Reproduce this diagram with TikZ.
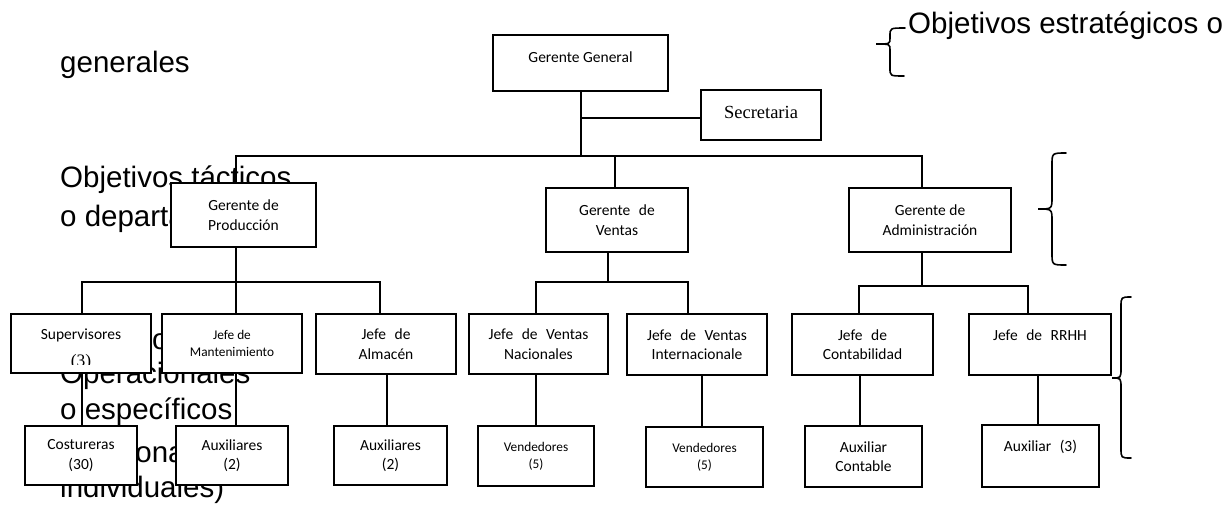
\documentclass[tikz,border=0pt]{standalone}
\usepackage{fontspec}
\newfontfamily\boxfont{Carlito}
\newfontfamily\bigfont{Liberation Sans}
\newfontfamily\serfont{Liberation Serif}
\usetikzlibrary{calc}
\pgfdeclarelayer{txt}
\pgfdeclarelayer{lines}
\pgfsetlayers{txt,lines,main}
\newcommand{\wsp}{\hspace{0.55em}}
\begin{document}
\begin{tikzpicture}[x=1pt,y=-1pt,
  box/.style={draw, line width=2.2pt, fill=white, inner sep=0pt, align=center, font=\boxfont\fontsize{15.5}{19.5}\selectfont},
  smallbox/.style={box, font=\boxfont\fontsize{13.3}{17}\selectfont},
  big/.style={anchor=base west, inner sep=0pt, font=\bigfont\fontsize{29.5}{33}\selectfont},
  conn/.style={line width=2pt, line join=miter},
  brace/.style={line width=1.6pt, line cap=round}]
\useasboundingbox (0,0) rectangle (1230,504);

% ---- boxes ----
\node[box, minimum width=175pt, minimum height=56pt] (gg) at (580.5,63) {\raisebox{6pt}[\height][\depth]{Gerente General}};
\node[box, font=\serfont\fontsize{18.5}{21}\selectfont, minimum width=120pt, minimum height=50pt] (sec) at (761,115) {\raisebox{3pt}[\height][\depth]{Secretaria}};
\node[box, minimum width=145pt, minimum height=64pt] (gp) at (243.5,215) {Gerente de\\Producción};
\node[box, minimum width=142pt, minimum height=64pt] (gv) at (617,220) {Gerente\wsp de\\Ventas};
\node[box, minimum width=162pt, minimum height=64pt] (ga) at (930,220) {Gerente de\\Administración};
\node[box, minimum width=140pt, minimum height=59pt] (sup) at (81,343.5) {Supervisores\\~};
\node[smallbox, minimum width=140pt, minimum height=59pt] (mant) at (232,343.5) {Jefe de\\Mantenimiento};
\node[box, minimum width=140pt, minimum height=60pt] (alm) at (386,344) {Jefe\wsp de\\Almacén};
\node[box, minimum width=139pt, minimum height=60pt] (jvn) at (538.5,344) {Jefe\wsp de\wsp Ventas\\Nacionales};
\node[box, minimum width=140pt, minimum height=61pt] (jvi) at (697,344.5) {Jefe\wsp de\wsp Ventas\\Internacionale};
\node[box, minimum width=141pt, minimum height=61pt] (cont) at (862.5,344.5) {Jefe\wsp de\\Contabilidad};
\node[box, minimum width=142pt, minimum height=61pt] (rrhh) at (1040,344.5) {Jefe\wsp de\wsp RRHH\\~};
\node[box, minimum width=112pt, minimum height=59pt] (cost) at (81,455.5) {Costureras\\(30)};
\node[box, minimum width=112pt, minimum height=59pt] (aux1) at (232,455.5) {Auxiliares\\(2)};
\node[box, minimum width=113pt, minimum height=59pt] (aux2) at (390.5,455.5) {Auxiliares\\(2)};
\node[smallbox, minimum width=116pt, minimum height=60pt] (vend1) at (536,456) {Vendedores\\(5)};
\node[smallbox, minimum width=117pt, minimum height=60pt] (vend2) at (704.5,457) {Vendedores\\(5)};
\node[box, minimum width=117pt, minimum height=61pt] (auxc) at (863.5,456.5) {Auxiliar\\Contable};
\node[box, minimum width=117pt, minimum height=62pt] (aux3) at (1040.5,456) {Auxiliar\wsp(3)\\~};

% clipped "(3)" inside Supervisores
\begin{scope}
\clip (sup.north west) rectangle ([yshift=10pt]sup.south east);
\node[font=\serfont\fontsize{17.5}{20}\selectfont, anchor=base, inner sep=0pt] (sup3) at (81,366) {(3)};
\end{scope}

% ---- connectors ----
\begin{pgfonlayer}{lines}
\coordinate (b0) at (580.5,156);
\coordinate (bs) at (580.5,118);
\coordinate (bL) at (236,156);
\coordinate (bV) at (615,156);
\coordinate (bR) at (922,156);
\draw[conn] (gg.south) -- (b0);
\draw[conn] (bs) -- (bs -| sec.west);
\draw[conn] (bL |- gp.north) -- (bL) -- (bR) -- (bR |- ga.north);
\draw[conn] (bV) -- (bV |- gv.north);
% produccion
\coordinate (pL) at (82,282);
\coordinate (pM) at (236,282);
\coordinate (pR) at (380,282);
\coordinate (qa) at (387,400);
\draw[conn] (pM |- gp.south) -- (pM);
\draw[conn] (pL |- sup.north) -- (pL) -- (pR) -- (pR |- alm.north);
\draw[conn] (pM) -- (pM |- mant.north);
\draw[conn] (pL |- sup.south) -- (pL |- cost.north);
\draw[conn] (pM |- mant.south) -- (pM |- aux1.north);
\draw[conn] (qa |- alm.south) -- (qa |- aux2.north);
% ventas
\coordinate (vL) at (536,282);
\coordinate (vM) at (608,282);
\coordinate (vR) at (688,282);
\coordinate (qv) at (702,400);
\draw[conn] (vM |- gv.south) -- (vM);
\draw[conn] (vL |- jvn.north) -- (vL) -- (vR) -- (vR |- jvi.north);
\draw[conn] (vL |- jvn.south) -- (vL |- vend1.north);
\draw[conn] (qv |- jvi.south) -- (qv |- vend2.north);
% administracion
\coordinate (aL) at (859,286);
\coordinate (aM) at (922,286);
\coordinate (aR) at (1028,286);
\coordinate (qc) at (860,400);
\coordinate (qr) at (1038,400);
\draw[conn] (aM |- ga.south) -- (aM);
\draw[conn] (aL |- cont.north) -- (aL) -- (aR) -- (aR |- rrhh.north);
\draw[conn] (qc |- cont.south) -- (qc |- auxc.north);
\draw[conn] (qr |- rrhh.south) -- (qr |- aux3.north);
\end{pgfonlayer}

% ---- braces ----
\draw[brace] (905,28) .. controls (890,28) .. (890,36) -- (890,38) .. controls (890,44) .. (876,44) .. controls (890,44) .. (890,50) -- (890,68) .. controls (890,76) .. (904,76);
\draw[brace] (1066,153) .. controls (1052,153) .. (1052,165) -- (1052,197) .. controls (1052,209) .. (1038,209) .. controls (1052,209) .. (1052,221) -- (1052,253) .. controls (1052,265) .. (1066,265);
\draw[brace] (1131,297) .. controls (1121,297) .. (1121,307) -- (1121,368) .. controls (1121,378) .. (1112,378) .. controls (1121,378) .. (1121,388) -- (1121,448) .. controls (1121,458) .. (1131,458);

% ---- background texts ----
\begin{pgfonlayer}{txt}
\node[big] (t0) at (908,33) {Objetivos estratégicos o};
\node[big] (t1) at (60,72) {generales};
\node[big] (t2) at (60,187) {Objetivos tácticos};
\node[big] (t3) at (60,226) {o departamentales};
\node[big] (t4) at (60,349) {Objetivos};
\node[big] (t5) at (60,383) {Operacionales};
\node[big] (t6) at (60,419) {o específicos};
\node[big] (t7) at (68,462) {(personales o};
\node[big] (t8) at (60,497) {individuales)};
\end{pgfonlayer}
\end{tikzpicture}
\end{document}
